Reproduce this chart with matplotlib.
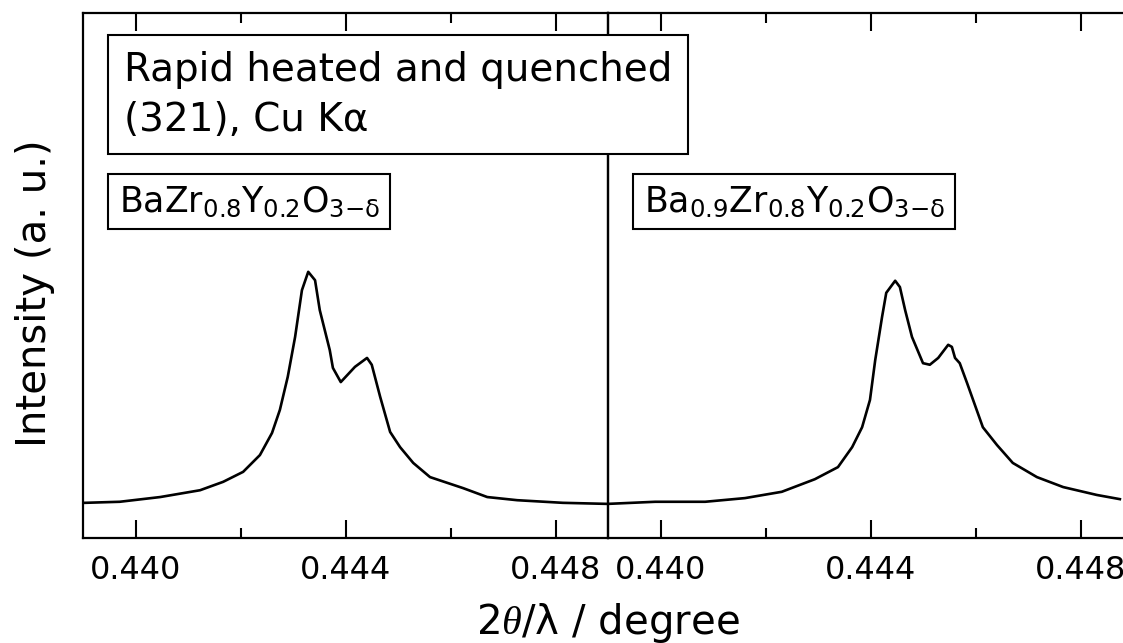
import matplotlib
matplotlib.use("Agg")
import matplotlib.pyplot as plt
from matplotlib.ticker import MultipleLocator, FormatStrFormatter

plt.rcParams['font.family'] = ['DejaVu Sans']
plt.rcParams['mathtext.fontset'] = 'custom'
plt.rcParams['mathtext.rm'] = 'DejaVu Sans'
plt.rcParams['mathtext.it'] = 'Liberation Serif:italic'

# BaZr0.8Y0.2O3-d  (left panel)
x_bzy = [0.43904, 0.43970, 0.44047, 0.44123, 0.44167, 0.44205, 0.44237, 0.44260,
         0.44275, 0.44290, 0.44304, 0.44317, 0.44329, 0.44342, 0.44351, 0.44370,
         0.44376, 0.44391, 0.44418, 0.44441, 0.44450, 0.44466, 0.44485, 0.44504,
         0.44529, 0.44561, 0.44624, 0.44670, 0.44727, 0.44814, 0.44898]
i_bzy = [67, 69, 78, 91, 107, 126, 158, 200,
         244, 307, 383, 472, 507, 491, 434, 358,
         324, 297, 326, 343, 330, 269, 202, 173,
         143, 116, 95, 78, 72, 67, 65]

# Ba0.9Zr0.8Y0.2O3-d  (right panel)
x_b9 = [0.43900, 0.43990, 0.44085, 0.44161, 0.44231, 0.44294, 0.44338, 0.44365,
        0.44384, 0.44399, 0.44409, 0.44422, 0.44430, 0.44447, 0.44456, 0.44466,
        0.44479, 0.44500, 0.44513, 0.44529, 0.44548, 0.44555, 0.44561, 0.44570,
        0.44584, 0.44614, 0.44641, 0.44671, 0.44717, 0.44767, 0.44831, 0.44875]
i_b9 = [65, 69, 69, 76, 88, 112, 135, 173,
        211, 263, 339, 421, 467, 490, 478, 434,
        383, 333, 330, 343, 368, 364, 343, 333,
        295, 211, 177, 143, 116, 97, 82, 74]

labels = [r'BaZr$_{0.8}$Y$_{0.2}$O$_{3\mathrm{-}\mathrm{\delta}}$',
          r'Ba$_{0.9}$Zr$_{0.8}$Y$_{0.2}$O$_{3\mathrm{-}\mathrm{\delta}}$']

W, H = 1123, 643
fig = plt.figure(figsize=(W / 100, H / 100), dpi=100)
ax1 = fig.add_axes([83 / W, 105 / H, 525 / W, 525 / H])
ax2 = fig.add_axes([608 / W, 105 / H, 525 / W, 525 / H])
ax1.set_zorder(2)
ax1.patch.set_visible(False)

for ax, xs, ys, lab in [(ax1, x_bzy, i_bzy, labels[0]), (ax2, x_b9, i_b9, labels[1])]:
    ax.plot(xs, ys, color='black', lw=1.9)
    ax.set_xlim(0.439, 0.449)
    ax.set_ylim(0, 1000)
    ax.xaxis.set_major_locator(MultipleLocator(0.004))
    ax.xaxis.set_minor_locator(MultipleLocator(0.002))
    ax.xaxis.set_major_formatter(FormatStrFormatter('%.3f'))
    ax.tick_params(axis='x', which='both', direction='in', top=True, width=1.5,
                   labelsize=23, pad=12)
    ax.tick_params(axis='x', which='major', length=13)
    ax.tick_params(axis='x', which='minor', length=7)
    ax.set_yticks([])
    for s in ax.spines.values():
        s.set_linewidth(1.6)
    ax.text(0.068, 0.641, lab, transform=ax.transAxes, fontsize=25,
            ha='left', va='center',
            bbox=dict(boxstyle='square,pad=0.3', fc='white', ec='black', lw=1.5))

ax1.text(0.078, 0.928, 'Rapid heated and quenched\n(321), Cu K\u03b1',
         transform=ax1.transAxes, fontsize=28, ha='left', va='top',
         linespacing=1.4,
         bbox=dict(boxstyle='square,pad=0.4', fc='white', ec='black', lw=1.5),
         zorder=5, clip_on=False)

ax1.set_ylabel('Intensity (a. u.)', fontsize=29)
ax1.yaxis.set_label_coords(-0.053, 0.467)
fig.text(608 / W, -2 / H, r'2$\theta$/$\mathrm{\lambda}$ / degree', fontsize=29,
         ha='center', va='bottom')

fig.savefig('out.png', dpi=100)
